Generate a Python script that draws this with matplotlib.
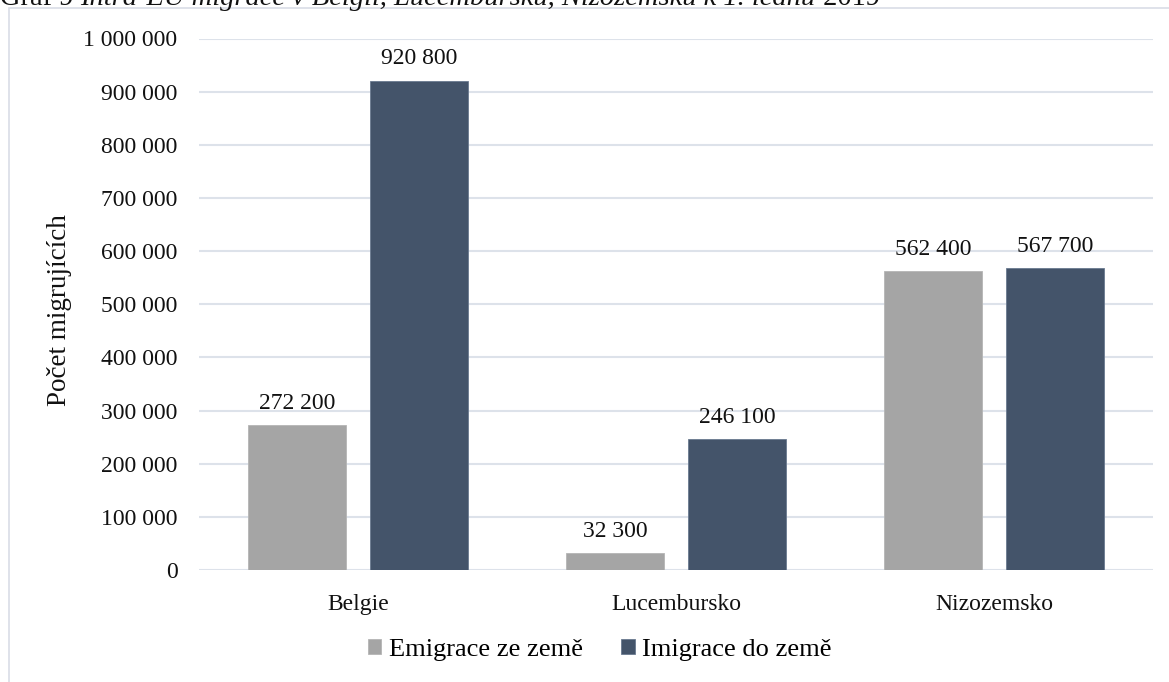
import matplotlib
matplotlib.use("Agg")
import matplotlib.pyplot as plt
from matplotlib.patches import Rectangle
from matplotlib.ticker import FuncFormatter, MultipleLocator
import numpy as np

# Data
countries = ["Belgie", "Lucembursko", "Nizozemsko"]
emigrace = [272200, 32300, 562400]
imigrace = [920800, 246100, 567700]
series_names = ["Emigrace ze země", "Imigrace do země"]
y_label = "Počet migrujících"
title_parts = [("Graf 9 ", "normal"),
               ("Intra-EU migrace v Belgii, Lucembursku, Nizozemsku k 1. lednu", "italic"),
               (" 2019", "normal")]

plt.rcParams["font.family"] = ["Liberation Serif", "DejaVu Serif"]

W, H = 1169, 682
fig = plt.figure(figsize=(W / 100, H / 100), dpi=100)
fig.patch.set_facecolor("white")

# outer chart frame
fig.patches.append(Rectangle((9 / W, -0.05), 1.2, 1 - 8 / H + 0.05,
                             transform=fig.transFigure, fill=False,
                             edgecolor="#d9dde6", linewidth=1.2))

ax = fig.add_axes([199 / W, 1 - 570 / H, (1153 - 199) / W, (570 - 38.5) / H])

GRAY = "#a5a5a5"
DARK = "#44546a"
x = np.arange(len(countries))
width = 0.308
offset = 0.192

b1 = ax.bar(x - offset, emigrace, width, color=GRAY, edgecolor="#b5b5b5",
            linewidth=0.6, label=series_names[0], zorder=3)
b2 = ax.bar(x + offset, imigrace, width, color=DARK, edgecolor="#6a7a90",
            linewidth=0.6, label=series_names[1], zorder=3)

fmt = lambda v: f"{int(round(v)):,}".replace(",", " ")

for bars, vals in ((b1, emigrace), (b2, imigrace)):
    for rect, v in zip(bars, vals):
        ax.annotate(fmt(v), (rect.get_x() + rect.get_width() / 2, v),
                    xytext=(0, 8), textcoords="offset points",
                    ha="center", va="bottom", fontsize=17, color="#111111")

ax.set_xlim(-0.5, len(countries) - 0.5)
ax.set_ylim(0, 1_000_000)
ax.yaxis.set_major_locator(MultipleLocator(100_000))
ax.yaxis.set_major_formatter(FuncFormatter(lambda v, p: fmt(v)))
ax.set_xticks(x)
ax.set_xticklabels(countries)
ax.tick_params(axis="both", length=0, labelsize=17, colors="#111111")
ax.tick_params(axis="y", pad=15.5)
ax.tick_params(axis="x", pad=17)
ax.grid(axis="y", color="#dde2ea", linewidth=1.5, zorder=0)
for s in ax.spines.values():
    s.set_visible(False)
ax.set_facecolor("white")

fig.text(59 / W, 1 - 310 / H, y_label, rotation=90, ha="center", va="center",
         fontsize=19.5, color="#111111")

leg = fig.legend(handles=[b1, b2], labels=series_names, loc="center",
                 bbox_to_anchor=(600 / W, 1 - 650 / H), ncol=2, frameon=False,
                 fontsize=19, handlelength=0.5, handleheight=0.5,
                 handletextpad=0.3, columnspacing=1.45)

# caption running along the top edge
fig.canvas.draw()
renderer = fig.canvas.get_renderer()
xpos = 0.0
for txt, style in title_parts:
    t = fig.text(xpos, 1 - 5 / H, txt, style=style, fontsize=20.5,
                 ha="left", va="baseline", color="#111111")
    bb = t.get_window_extent(renderer)
    xpos += bb.width / W

fig.savefig("out.png", dpi=100)
